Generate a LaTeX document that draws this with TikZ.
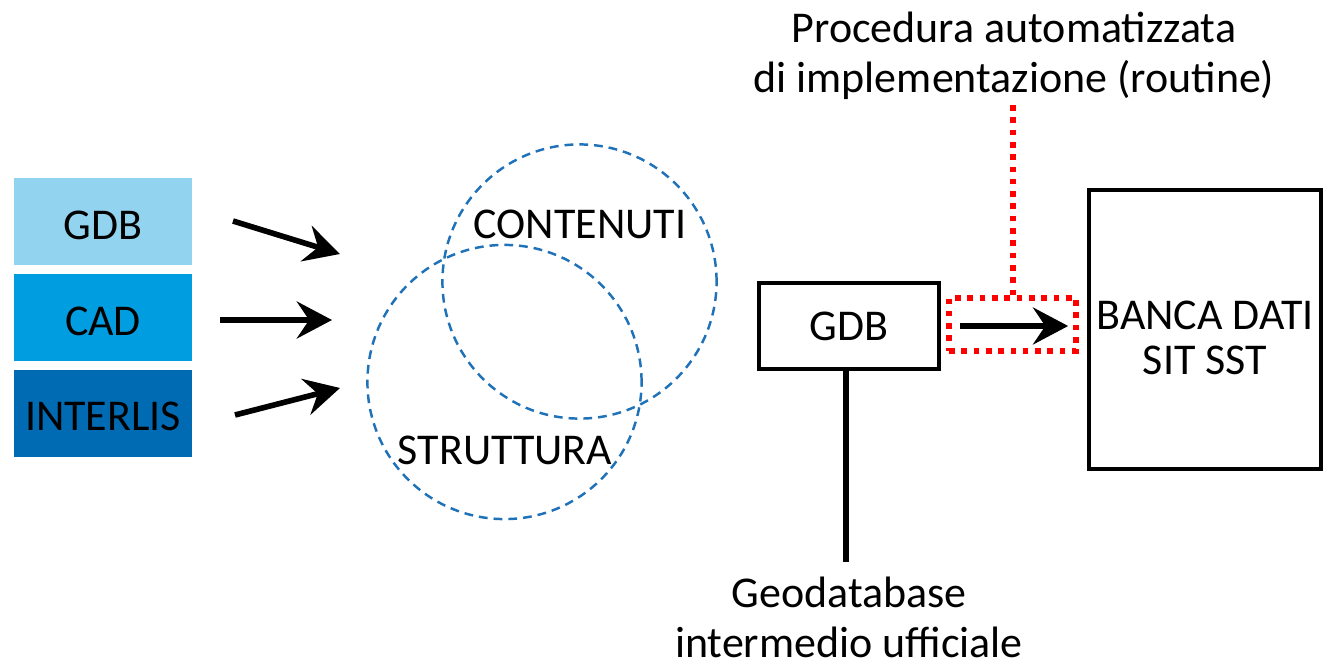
\documentclass[tikz,border=0pt]{standalone}
\usepackage{fontspec}
\setmainfont{Carlito}
\usetikzlibrary{arrows.meta}
\definecolor{gdbblue}{RGB}{146,212,240}
\definecolor{cadblue}{RGB}{0,158,224}
\definecolor{interblue}{RGB}{0,106,178}
\definecolor{circblue}{RGB}{31,113,184}
\definecolor{routred}{RGB}{255,0,0}

\begin{document}
\begin{tikzpicture}[x=0.01cm,y=-0.01cm,
  txt/.style={font=\fontsize{12.5}{12.8}\selectfont, inner sep=0pt},
  bigtxt/.style={font=\fontsize{12.5}{14.2}\selectfont, align=center, inner sep=0pt},
  srcbox/.style={minimum width=1.78cm, minimum height=0.87cm, inner sep=0pt},
  arr/.style={line width=1.6pt, -{Stealth[length=10pt,width=10.5pt,inset=3.5pt]}},
  circ/.style={circle, draw=circblue, line width=0.7pt, dash pattern=on 2.5pt off 1.7pt, minimum size=2.74cm, inner sep=0pt},
  reddot/.style={draw=routred, line width=1.6pt, dash pattern=on 1.6pt off 1.9pt},
  plainbox/.style={draw, line width=1pt, inner sep=0pt}]
\useasboundingbox (0,0) rectangle (1335,663);

\node[srcbox, fill=gdbblue, label={[txt, yshift=-0.04cm]center:GDB}] (gdbin) at (103,221.5) {};
\node[srcbox, fill=cadblue, label={[txt, yshift=-0.04cm]center:CAD}] (cadin) at (103,317.5) {};
\node[srcbox, fill=interblue, label={[txt, yshift=-0.03cm]center:INTERLIS}] (interin) at (103,413.5) {};

\coordinate (g1) at (233,221); \coordinate (g2) at (340,254);
\coordinate (c1) at (220,320); \coordinate (c2) at (332,320);
\coordinate (i1) at (235,415); \coordinate (i2) at (340,388);
\draw[arr] (g1) -- (g2);
\draw[arr] (c1) -- (c2);
\draw[arr] (i1) -- (i2);

\node[circ] (cont) at (579.5,281.5) {};
\node[circ] (strut) at (504.5,382) {};
\node[txt] (conttxt) at (580,224) {CONTENUTI};
\node[txt] (struttxt) at (505,450) {STRUTTURA};

\node[plainbox, txt, minimum width=1.8cm, minimum height=0.86cm] (gdb) at (849,326) {GDB};
\node[plainbox, minimum width=2.32cm, minimum height=2.79cm] (banca) at (1205,329.5) {};
\node[txt, align=center] (bancatxt) at (1205,338) {BANCA DATI\\SIT SST};
\node[reddot, minimum width=1.27cm, minimum height=0.53cm] (rout) at (1012.5,324.5) {};
\draw[arr, shorten <=0.19cm, shorten >=0.19cm] (gdb.east) -- (gdb.east -| banca.west);

\node[bigtxt] (proc) at (1014,56) {Procedura automatizzata\\di implementazione (routine)};
\coordinate (procfoot) at (1013,105);
\draw[reddot] (procfoot) -- (procfoot |- rout.north);

\node[bigtxt] (geodb) at (849,617) {Geodatabase\\intermedio ufficiale};
\coordinate (geotop) at (846,562);
\draw[line width=1.6pt] (gdb.south -| geotop) -- (geotop);

\end{tikzpicture}
\end{document}
